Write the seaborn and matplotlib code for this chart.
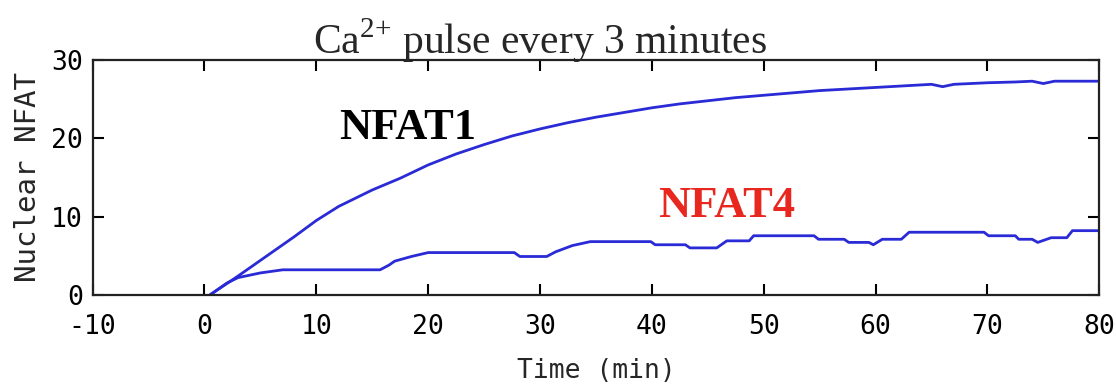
import numpy as np
import pandas as pd
import seaborn as sns
import matplotlib.pyplot as plt

# values (time in min, nuclear NFAT)
nfat1_time = [0.5, 3, 5, 8, 10, 12, 15, 17.5, 20, 22.5, 25, 27.5, 30, 32.5, 35, 37.5, 40, 42.5, 45,
              47.5, 50, 52.5, 55, 57.5, 60, 62.5, 65, 66, 67, 70, 72.5, 74, 75, 76, 80]
nfat1_vals = [0, 2.4, 4.4, 7.4, 9.5, 11.3, 13.4, 14.9, 16.6, 18.0, 19.2, 20.3, 21.2, 22.0, 22.7, 23.3,
              23.9, 24.4, 24.8, 25.2, 25.5, 25.8, 26.1, 26.3, 26.5, 26.7, 26.9, 26.6, 26.9, 27.1,
              27.2, 27.3, 27.0, 27.3, 27.3]

nfat4_time = [0.5, 2, 3, 5, 7, 15.7, 16.5, 17, 18.5, 20, 27.7, 28.2, 30.6, 31.4, 32.9, 34.5, 39.9,
              40.3, 43, 43.4, 45.8, 46.7, 48.7, 49.1, 54.5, 54.9, 57.2, 57.6, 59.4, 59.8, 60.6,
              62.3, 63, 69.7, 70.1, 72.5, 72.8, 74, 74.5, 75.7, 77.1, 77.6, 80]
nfat4_vals = [0, 1.5, 2.2, 2.8, 3.2, 3.2, 3.8, 4.3, 4.9, 5.4, 5.4, 4.9, 4.9, 5.5, 6.3, 6.8, 6.8,
              6.4, 6.4, 6.0, 6.0, 6.9, 6.9, 7.55, 7.55, 7.1, 7.1, 6.7, 6.7, 6.4, 7.1,
              7.1, 8.0, 8.0, 7.55, 7.55, 7.1, 7.1, 6.7, 7.3, 7.3, 8.2, 8.2]

x_ticks = [-10, 0, 10, 20, 30, 40, 50, 60, 70, 80]
y_ticks = [0, 10, 20, 30]

df = pd.concat([
    pd.DataFrame({"time": nfat1_time, "nfat": nfat1_vals, "series": "NFAT1"}),
    pd.DataFrame({"time": nfat4_time, "nfat": nfat4_vals, "series": "NFAT4"}),
])

sns.set_style("ticks")
plt.rcParams['font.family'] = ['DejaVu Sans Mono', 'DejaVu Sans']
plt.rcParams['axes.unicode_minus'] = False
plt.rcParams['mathtext.fontset'] = 'custom'
plt.rcParams['mathtext.rm'] = 'Liberation Serif'

fig = plt.figure(figsize=(11.16, 3.9), dpi=100)
ax = fig.add_axes([0.083, 0.244, 0.902, 0.602])

sns.lineplot(data=df, x="time", y="nfat", units="series", estimator=None,
             color="#2a2ad6", linewidth=2, ax=ax, legend=False)

ax.set_xlim(-10, 80)
ax.set_ylim(0, 30)
ax.set_xticks(x_ticks)
ax.set_yticks(y_ticks)
ax.tick_params(direction="in", length=8, width=1.5, top=True, right=True,
               labelsize=19, colors="black")
ax.tick_params(axis="x", pad=14)
ax.tick_params(axis="y", pad=7)
for s in ax.spines.values():
    s.set_linewidth(1.6)
    s.set_color("#222222")

ax.set_xlabel("Time (min)", fontsize=19, labelpad=13)
ax.set_ylabel("Nuclear NFAT", fontsize=21)
ax.yaxis.set_label_coords(-0.050, 0.5)

ax.text(18.2, 21.3, "NFAT1", fontsize=32, fontweight="bold", family="Liberation Serif",
        color="black", ha="center", va="center")
ax.text(46.7, 11.4, "NFAT4", fontsize=32, fontweight="bold", family="Liberation Serif",
        color="#e8281e", ha="center", va="center")

fig.text(0.484, 0.862, "Ca$^{2{+}}$ pulse every 3 minutes", fontsize=30, family="Liberation Serif",
         ha="center", va="baseline")

fig.savefig("out.png", dpi=100)
